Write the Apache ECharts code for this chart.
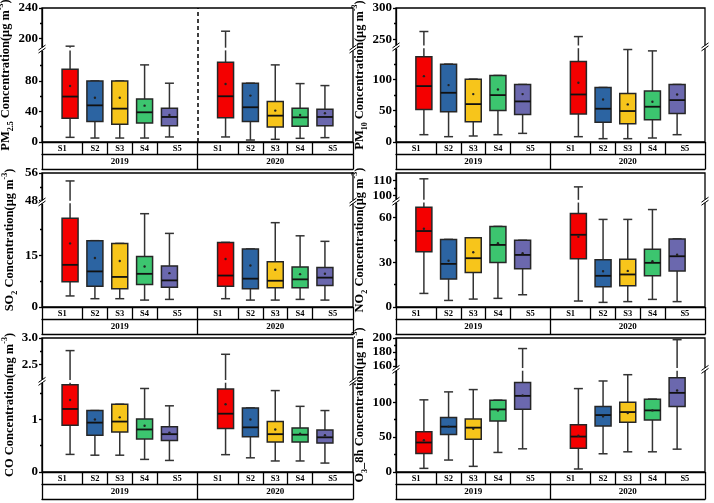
<!DOCTYPE html>
<html><head><meta charset="utf-8">
<script src="https://cdn.jsdelivr.net/npm/echarts@6/dist/echarts.min.js"></script>
<style>html,body{margin:0;padding:0;background:#fff}#c{width:714px;height:503px}</style>
</head><body><div id="c"></div><script>
// ---------- data ----------
const stations = ['S1','S2','S3','S4','S5'];
const years = ['2019','2020'];
const stationColors = ['#f40000','#2c64a2','#f7c51b','#3cc56f','#6b68ae'];

// each row: [min, Q1, median, Q3, max, mean]
const pm25_2019 = [[6.1,31,59.5,95.3,190,73.4],[5.2,26.7,48,80,80,58],[5.2,23.2,43.7,80,80,58],[5.2,24.9,38.9,56.4,101,47.6],[6.6,21.4,32.8,44.2,77,35.4]];
const pm25_2020 = [[6.6,31.9,59.9,104.5,209.6,76],[2.6,26.7,45.5,77,77,60.8],[3.5,19.7,34.5,52.9,101,41.1],[4.8,20.5,32.3,44.2,76.5,35.4],[5.7,21.4,32.8,42.8,73.9,37.6]];
const pm10_2019 = [[11.7,52.1,89.4,136.2,262.4,105.3],[8.5,48.4,78.7,124.5,124.5,91],[9.6,32.4,60.6,100.5,100.5,76.6],[11.7,50.5,75,106.4,106.4,84],[13.8,44.1,64.9,92,92,76.6]];
const pm10_2020 = [[8.5,44.7,76,128.7,254.3,94.7],[5.3,31.4,53.2,87.2,87.2,68],[5.3,29.3,49.5,77.7,147.9,60.1],[6.4,35.6,56.4,81.4,145.7,64.4],[11.7,45.7,67,92,92,76]];
const so2_2019 = [[3.2,7.3,12.2,25.7,53.7,18.4],[2.4,6.0,10.3,19.2,19.2,14.2],[2.4,5.3,8.7,18.4,18.4,13.3],[2.0,6.5,9.6,14.6,27.0,11.7],[2.2,5.7,7.7,11.9,21.3,9.8]];
const so2_2020 = [[2.4,6.0,9.1,18.7,18.7,13.9],[2.0,5.3,8.2,16.8,16.8,12.0],[2.0,5.6,7.6,13.1,24.4,10.8],[2.2,5.6,8.0,11.6,20.6,9.5],[2.0,6.2,8.5,11.4,19.0,9.6]];
const no2_2019 = [[9.1,37.1,50.9,66.9,111.1,52.4],[4.4,18.7,28.9,45.3,45.3,31],[5.3,23.1,32.7,46.4,46.4,36.7],[5.8,29.8,41.6,54,54,42.7],[8.2,25.6,34.9,44.7,44.7,36]];
const no2_2020 = [[4.0,32.4,48.4,62.7,105.7,47],[3.1,13.6,20.9,31.6,58.7,24],[3.6,14.2,21.8,32,58.7,24.2],[5.1,20.9,29.6,38.7,65.3,30.7],[3.6,24.2,34,45.6,45.6,35]];
const co_2019 = [[0.335,0.89,1.20,1.66,2.76,1.37],[0.32,0.70,0.94,1.17,1.17,1.0],[0.32,0.76,0.96,1.29,1.29,1.04],[0.24,0.63,0.81,1.01,1.59,0.88],[0.22,0.60,0.72,0.86,1.26,0.75]];
const co_2020 = [[0.33,0.83,1.11,1.58,2.69,1.29],[0.27,0.67,0.85,1.22,1.22,1.0],[0.21,0.57,0.72,0.96,1.55,0.81],[0.21,0.57,0.71,0.84,1.25,0.73],[0.17,0.55,0.66,0.80,1.17,0.70]];
const o3_2019 = [[5.2,26.5,42.2,57.8,103.3,45.5],[17.1,53.6,64.9,78.2,114.7,65],[8.1,46.9,63.5,75.8,118,62],[28,73,89.6,102.8,102.8,88],[33.2,90,109,128,184.9,109.5]];
const o3_2020 = [[4.3,34.1,50.7,67.8,119.4,52],[26.1,65.9,81.5,93.8,130.3,79.6],[28.9,71.1,85.8,100,139.3,84.4],[28.9,74.4,88.2,104.3,104.3,88.2],[32.7,93.8,113.3,135,197.6,116.6]];

// axis ticks
const pm25Ticks = [0,40,80,200,240], pm25Minor = [20,60,100,220];
const pm10Ticks = [0,50,100,250,300], pm10Minor = [25,75,125,275];
const so2Ticks = [0,15,48,56], so2Minor = [7.5,22.5,52];
const no2Ticks = [0,30,60,100,110], no2Minor = [15,45,105];
const coTicks = [0,1,2.5,3], coTickText = ['0','1','2.5','3.0'], coMinor = [0.5,1.5,2.75];
const o3Ticks = [0,50,100,160,180,200], o3Minor = [25,75,125,170,190];

// ---------- layout ----------
const FONT = 'Liberation Serif';
const G = 6.26, P = 1.13;   // x-units: width of one year group, padding before first box
const colLeft = [42, 396], colWidth = [311, 309];
const rowTop = [8, 173, 338], plotH = 134;

const nameRich = {
  b: {fontFamily: FONT, fontWeight: 'bold', fontSize: 12.5, color: '#000', lineHeight: 18},
  sub: {fontFamily: FONT, fontWeight: 'bold', fontSize: 8, color: '#000', lineHeight: 9, verticalAlign: 'bottom'},
  sup: {fontFamily: FONT, fontWeight: 'bold', fontSize: 8, color: '#000', lineHeight: 9, verticalAlign: 'top'}
};

const panels = [
  {name: '{b|PM}{sub|2.5}{b| Concentration(μg m}{sup|-3}{b|)}', data: [pm25_2019, pm25_2020], min: 0, max: 240, brk: [120, 188], ticks: pm25Ticks, minor: pm25Minor, dashed: true},
  {name: '{b|PM}{sub|10}{b| Concentration(μg m}{sup|-3}{b|)}', data: [pm10_2019, pm10_2020], min: 0, max: 300, brk: [150, 240], ticks: pm10Ticks, minor: pm10Minor},
  {name: '{b|SO}{sub|2}{b| Concentration(μg m}{sup|-3}{b|)}', data: [so2_2019, so2_2020], min: 0, max: 56, brk: [30, 48], ticks: so2Ticks, minor: so2Minor},
  {name: '{b|NO}{sub|2}{b| Concentration(μg m}{sup|-3}{b|)}', data: [no2_2019, no2_2020], min: 0, max: 115, brk: [70, 97], ticks: no2Ticks, minor: no2Minor},
  {name: '{b|CO Concentration(mg m}{sup|-3}{b|)}', data: [co_2019, co_2020], min: 0, max: 3, brk: [1.7, 2.2], ticks: coTicks, tickText: coTickText, minor: coMinor},
  {name: '{b|O}{sub|3}{b|_8h Concentration(μg m}{sup|-3}{b|)}', data: [o3_2019, o3_2020], min: 0, max: 200, brk: [145, 157], ticks: o3Ticks, minor: o3Minor}
];

// x positions (in x-units) of boxes, cell boundaries and label centres
const xPos = (y, i) => y * G + P + i;
const cellBounds = [], cellCenters = [], cellNames = [];
years.forEach((yr, y) => {
  const b = [y * G];
  for (let i = 0; i < stations.length - 1; i++) b.push(xPos(y, i) + 0.5);
  b.push((y + 1) * G);
  b.slice(0, -1).forEach(v => cellBounds.push(v));
  stations.forEach((s, i) => { cellCenters.push((b[i] + b[i + 1]) / 2); cellNames.push(s); });
});
cellBounds.push(2 * G);
const yearCenters = years.map((_, y) => y * G + G / 2);
const yearBounds = [0, G, 2 * G];
const findName = (arr, names, v) => { const k = arr.findIndex(p => Math.abs(p - v) < 1e-6); return k < 0 ? '' : names[k]; };

const AX = {color: '#000', width: 1.3};
const grids = [], xAxes = [], yAxes = [], series = [];

function boxRenderer(brk) {
  return function (params, api) {
    const x = api.value(0);
    const mn = api.value(1), q1 = api.value(2), md = api.value(3), q3 = api.value(4), mx = api.value(5), mean = api.value(6);
    const ci = api.value(7);
    const yp = v => api.coord([x, v])[1];
    const cx = api.coord([x, md])[0];
    const hw = 8, cw = 4.5;
    const ch = [];
    const ln = (x1, y1, x2, y2, w, c) => ch.push({type: 'line', shape: {x1, y1, x2, y2}, style: {stroke: c || '#333', lineWidth: w || 1.5}});
    const vseg = (a, b) => {
      if (a < brk[0] && b > brk[1]) { ln(cx, yp(a), cx, yp(brk[0])); ln(cx, yp(brk[1]), cx, yp(b)); }
      else ln(cx, yp(a), cx, yp(b));
    };
    vseg(mn, q1); vseg(q3, mx);
    ln(cx - cw, yp(mn), cx + cw, yp(mn));
    ln(cx - cw, yp(mx), cx + cw, yp(mx));
    const yt = yp(q3), yb = yp(q1);
    ch.push({type: 'rect', shape: {x: cx - hw, y: yt, width: 2 * hw, height: yb - yt}, style: {fill: stationColors[ci], stroke: '#262626', lineWidth: 1.5}});
    ln(cx - hw, yp(md), cx + hw, yp(md), 1.8, '#111');
    ch.push({type: 'circle', shape: {cx: cx, cy: yp(mean), r: 1.2}, style: {fill: '#222'}});
    return {type: 'group', children: ch};
  };
}

function breakRenderer(brk) {
  return function (params, api) {
    const cs = params.coordSys;
    const ya = api.coord([0, brk[0]])[1], yb = api.coord([0, brk[1]])[1];
    const mid = (ya + yb) / 2;
    const ch = [];
    [cs.x, cs.x + cs.width].forEach(xe => {
      ch.push({type: 'rect', shape: {x: xe - 2, y: mid - 1.5, width: 4, height: 3}, style: {fill: '#fff'}});
      [-1.5, 1.5].forEach(d => ch.push({type: 'line', shape: {x1: xe - 3.5, y1: mid + d + 2.5, x2: xe + 3.5, y2: mid + d - 2.5}, style: {stroke: '#000', lineWidth: 1}}));
    });
    return {type: 'group', children: ch};
  };
}

panels.forEach((p, gi) => {
  const col = gi % 2, row = Math.floor(gi / 2);
  grids.push({left: colLeft[col], top: rowTop[row], width: colWidth[col], height: plotH, show: true, borderColor: '#000', borderWidth: 1.3, outerBoundsMode: 'none'});
  const xi = xAxes.length;
  const xBase = {gridIndex: gi, type: 'value', min: 0, max: 2 * G, position: 'bottom', splitLine: {show: false}};
  xAxes.push(Object.assign({}, xBase, {
    axisLine: {show: true, onZero: false, lineStyle: AX},
    axisTick: {show: true, inside: false, length: 12.3, customValues: cellBounds, lineStyle: AX},
    axisLabel: {show: true, customValues: cellCenters, formatter: v => findName(cellCenters, cellNames, v), margin: 2.5, fontFamily: FONT, fontWeight: 'bold', fontSize: 8.5, color: '#000'}
  }));
  xAxes.push(Object.assign({}, xBase, {
    offset: 12.3,
    axisLine: {show: true, onZero: false, lineStyle: AX},
    axisTick: {show: true, inside: false, length: 15, customValues: yearBounds, lineStyle: AX},
    axisLabel: {show: true, customValues: yearCenters, formatter: v => findName(yearCenters, years, v), margin: 3, fontFamily: FONT, fontWeight: 'bold', fontSize: 9, color: '#000'}
  }));
  xAxes.push(Object.assign({}, xBase, {
    offset: 27.3,
    axisLine: {show: true, onZero: false, lineStyle: AX},
    axisTick: {show: false}, axisLabel: {show: false}
  }));
  const yi = yAxes.length;
  const yBase = {gridIndex: gi, type: 'value', min: p.min, max: p.max, position: 'left',
    breaks: [{start: p.brk[0], end: p.brk[1], gap: '2%'}], breakArea: {show: false}, splitLine: {show: false}};
  yAxes.push(Object.assign({}, yBase, {
    name: p.name, nameLocation: 'middle', nameGap: 23,
    nameTextStyle: {color: '#000', fontFamily: FONT, fontWeight: 'bold', fontSize: 12.5, rich: nameRich},
    axisLine: {show: true, onZero: false, lineStyle: AX},
    axisTick: {show: true, inside: false, length: 3, customValues: p.ticks, lineStyle: AX},
    axisLabel: {show: true, customValues: p.ticks, margin: 4,
      formatter: v => p.tickText ? findName(p.ticks, p.tickText, v) : String(v),
      fontFamily: FONT, fontWeight: 'bold', fontSize: 13, color: '#000'}
  }));
  yAxes.push(Object.assign({}, yBase, {
    axisLine: {show: false}, axisLabel: {show: false},
    axisTick: {show: true, inside: false, length: 2, customValues: p.minor, lineStyle: AX}
  }));
  const items = [];
  p.data.forEach((arr, y) => arr.forEach((d, i) => items.push([xPos(y, i)].concat(d, [i]))));
  const s = {
    type: 'custom', xAxisIndex: xi, yAxisIndex: yi, clip: false, silent: true,
    dimensions: ['x', 'min', 'q1', 'median', 'q3', 'max', 'mean', 'station'],
    encode: {x: 0, y: [1, 2, 3, 4, 5]},
    renderItem: boxRenderer(p.brk), data: items, z: 3
  };
  if (p.dashed) {
    s.markLine = {silent: true, symbol: ['none', 'none'], label: {show: false},
      lineStyle: {color: '#000', type: [4, 3], width: 1.5}, data: [{xAxis: G}]};
  }
  series.push(s);
  series.push({type: 'custom', xAxisIndex: xi, yAxisIndex: yi, clip: false, silent: true, z: 5,
    encode: {x: 0, y: 1}, data: [[0, p.brk[0]]], renderItem: breakRenderer(p.brk)});
});

const chart = echarts.init(document.getElementById('c'), null, {renderer: 'canvas'});
chart.setOption({animation: false, backgroundColor: '#fff', grid: grids, xAxis: xAxes, yAxis: yAxes, series: series});
</script></body></html>
